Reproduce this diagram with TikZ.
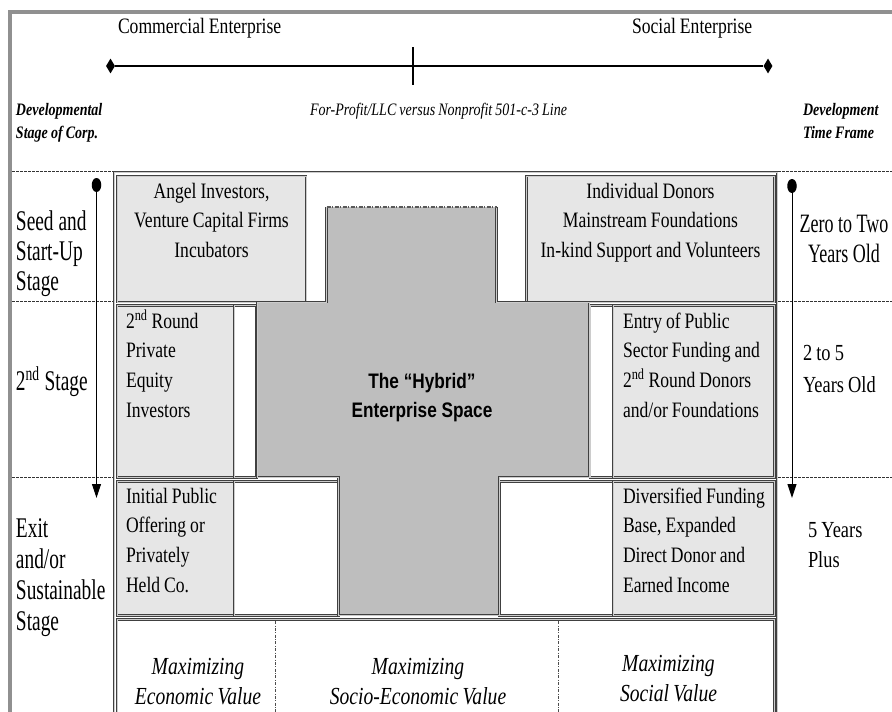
\documentclass[tikz,border=0pt]{standalone}
\usepackage{fontspec}
\setmainfont{Liberation Serif}
\newfontfamily\tf[FakeStretch=0.8,WordSpace=0.9]{Liberation Serif}
\newfontfamily\pf[FakeStretch=0.68]{Liberation Serif}
\newfontfamily\hf[FakeStretch=0.82]{Liberation Sans}
\usetikzlibrary{shapes.geometric,arrows.meta}
\definecolor{lite}{HTML}{E6E6E6}
\definecolor{hyb}{HTML}{BEBEBE}
\definecolor{frm}{HTML}{909090}
\begin{document}
\begin{tikzpicture}[x=1pt,y=-1pt,
  every node/.style={execute at begin node={\spaceskip=\fontdimen2\font\relax\xspaceskip=\fontdimen2\font\relax}},
  dbl/.style={draw=black!75, line width=0.6pt, double=gray!40, double distance=0.9pt},
  cell/.style={dbl, rectangle, inner sep=0pt, outer sep=0pt, anchor=north west},
  litecell/.style={cell, fill=lite},
  whitecell/.style={cell, fill=white},
  boxtxt/.style={inner sep=0pt, outer sep=0pt, font=\tf\fontsize{22pt}{29.7pt}\selectfont},
  lefttxt/.style={inner sep=0pt, outer sep=0pt, anchor=base west, text width=110pt, align=left},
  hdr/.style={inner sep=0pt, outer sep=0pt, font=\tf\bfseries\itshape\fontsize{17.5pt}{23.5pt}\selectfont},
  maxtxt/.style={inner sep=0pt, outer sep=0pt, anchor=base, text width=200pt, align=center, font=\tf\itshape\fontsize{24.5pt}{30pt}\selectfont},
  stageline/.style={black!80, line width=0.7pt, dash pattern=on 2.5pt off 1.5pt},
  divline/.style={black!70, line width=0.6pt, dash pattern=on 3pt off 1.5pt on 0.8pt off 1.5pt},
  dotn/.style={ellipse, fill=black, inner sep=0pt, minimum width=9.5pt, minimum height=14pt},
  diam/.style={diamond, fill=black, inner sep=0pt, minimum width=9pt, minimum height=15pt},
  arr/.style={line width=1pt, -{Triangle[width=9pt,length=14pt]}}
]
\useasboundingbox (0,0) rectangle (892,712);
\clip (0,0) rectangle (892,712);
\fill[white] (0,0) rectangle (892,712);

% outer frame
\draw[frm, line width=4pt] (10,760) -- (10,12) -- (900,12);

% top axis
\node[hdr, font=\tf\fontsize{22pt}{26pt}\selectfont, anchor=base west] (ce) at (118,34) {Commercial Enterprise};
\node[hdr, font=\tf\fontsize{22pt}{26pt}\selectfont, anchor=base west] (se) at (632,34) {Social Enterprise};
\node[diam] (d1) at (110.5,66) {};
\node[diam] (d2) at (768,66) {};
\draw[line width=1.6pt] (d1) -- (d2);
\coordinate (tk1) at (413,47);
\coordinate (tk2) at (413,85);
\draw[line width=1.3pt] (tk1) -- (tk2);

% header labels
\node[hdr, anchor=base west, text width=110pt, align=left] (dev) at (16,115) {Developmental\\Stage of Corp.};
\node[hdr, font=\tf\itshape\fontsize{17.5pt}{23.5pt}\selectfont, anchor=base west] (line) at (310,115) {For-Profit/LLC versus Nonprofit 501-c-3 Line};
\node[hdr, anchor=base west, text width=100pt, align=left] (dtf) at (803,115) {Development\\Time Frame};

% stage separators
\foreach \yy in {171,301.5,477.5}{
  \draw[stageline] (12,\yy) -- (113,\yy);
  \draw[stageline] (778,\yy) -- (892,\yy);
}

% grid outer frame
\node[cell, minimum width=663pt, minimum height=580pt] (grid) at (114,172) {};

% hybrid cross fill
\fill[hyb] (326.5,207) -- (496.5,207) -- (496.5,302) -- (589,302) -- (589,477) -- (499,477)
  -- (499,615) -- (338.5,615) -- (338.5,477) -- (257,477) -- (257,302) -- (326.5,302) -- cycle;

% row 1
\node[litecell, minimum width=189pt, minimum height=126pt] (angel) at (117,176) {};
\node[litecell, minimum width=248pt, minimum height=126pt] (donors) at (526.5,176) {};
% row 2
\node[litecell, minimum width=117pt, minimum height=172pt] (round2) at (117,305.5) {};
\node[whitecell, minimum width=22.5pt, minimum height=172pt] (ws1) at (234,305.5) {};
\node[whitecell, minimum width=23pt, minimum height=172pt] (ws2) at (590,305.5) {};
\node[litecell, minimum width=161.5pt, minimum height=172pt] (entry) at (613,305.5) {};
% row 3
\node[litecell, minimum width=117pt, minimum height=134pt] (ipo) at (117,481.5) {};
\node[whitecell, minimum width=104.5pt, minimum height=134pt] (wb1) at (234,481.5) {};
\node[whitecell, minimum width=113.5pt, minimum height=134pt] (wb2) at (499.5,481.5) {};
\node[litecell, minimum width=161.5pt, minimum height=134pt] (divers) at (613,481.5) {};
% bottom row
\node[whitecell, minimum width=657.5pt, minimum height=130pt] (bottom) at (117,619.5) {};
\draw[divline] (275,621) -- (275,712);
\draw[divline] (558,621) -- (558,712);

% hybrid cross outline
\draw[dbl] (326.5,207) -- (326.5,302) -- (257,302) -- (257,477) -- (338.5,477) -- (338.5,615)
  -- (499,615) -- (499,477) -- (589,477) -- (589,302) -- (496.5,302) -- (496.5,207);
\draw[black!65, line width=1.2pt, dash pattern=on 4pt off 1.5pt on 1pt off 1.5pt] (326.5,207) -- (496.5,207);

% box texts
\node[boxtxt, anchor=base, text width=185pt, align=center] (angelT) at (211.5,198) {Angel Investors,\\Venture Capital Firms\\Incubators};
\node[boxtxt, anchor=base, text width=245pt, align=center] (donorsT) at (650.5,198) {Individual Donors\\Mainstream Foundations\\In-kind Support and Volunteers};
\node[boxtxt, lefttxt, text width=105pt] (round2T) at (126,328) {2\textsuperscript{nd} Round\\Private\\Equity\\Investors};
\node[boxtxt, lefttxt, text width=150pt] (entryT) at (623,328) {Entry of Public\\Sector Funding and\\2\textsuperscript{nd} Round Donors\\and/or Foundations};
\node[boxtxt, lefttxt, text width=105pt] (ipoT) at (126,503) {Initial Public\\Offering or\\Privately\\Held Co.};
\node[boxtxt, lefttxt, text width=150pt] (diversT) at (623,503) {Diversified Funding\\Base, Expanded\\Direct Donor and\\Earned Income};

% hybrid label
\node[inner sep=0pt, anchor=base, text width=220pt, align=center, font=\hf\bfseries\fontsize{21pt}{29pt}\selectfont] (hybT) at (422,388) {The “Hybrid”\\Enterprise Space};

% left stage labels
\node[lefttxt, font=\pf\fontsize{28.5pt}{30pt}\selectfont] (seedL) at (16,230) {Seed and\\Start-Up\\Stage};
\node[lefttxt, font=\pf\fontsize{28.5pt}{30pt}\selectfont] (secL) at (16,390) {2\textsuperscript{nd} Stage};
\node[lefttxt, font=\pf\fontsize{28.5pt}{31pt}\selectfont] (exitL) at (16,537) {Exit\\and/or\\Sustainable\\Stage};

% right time labels
\node[inner sep=0pt, anchor=base, text width=100pt, align=center, font=\pf\fontsize{26.5pt}{30pt}\selectfont] (zeroR) at (844,232) {Zero to Two\\Years Old};
\node[lefttxt, text width=90pt, font=\tf\fontsize{23pt}{32pt}\selectfont] (twoR) at (803,360) {2 to 5\\Years Old};
\node[lefttxt, text width=90pt, font=\tf\fontsize{23pt}{30pt}\selectfont] (fiveR) at (808,537) {5 Years\\Plus};

% maximizing labels
\node[maxtxt] (m1) at (198,674) {Maximizing\\Economic Value};
\node[maxtxt] (m2) at (418,674) {Maximizing\\Socio-Economic Value};
\node[maxtxt] (m3) at (668.5,671) {Maximizing\\Social Value};

% time arrows
\node[dotn] (la) at (96.5,185) {};
\coordinate (lb) at (96.5,498);
\draw[arr] (la) -- (lb);
\node[dotn] (ra) at (792,186) {};
\coordinate (rb) at (792,498);
\draw[arr] (ra) -- (rb);
\end{tikzpicture}
\end{document}
